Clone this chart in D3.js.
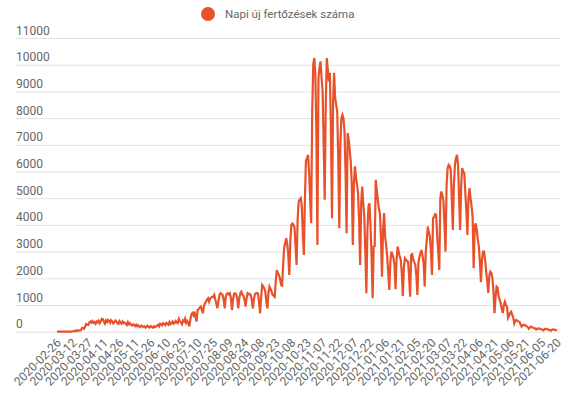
<!DOCTYPE html>
<html><head><meta charset="utf-8">
<script src="https://cdn.jsdelivr.net/npm/d3@7"></script>
<style>body{margin:0;background:#fff} svg{display:block} text{font-family:Roboto,"Noto Sans",sans-serif}</style>
</head><body><svg id="c" width="575" height="401"></svg>
<script>
const seriesName = "Napi új fertőzések száma";
// daily new infections, one array per month (first array starts 2020-02-26)
const feb2020 = [1,0,2,0];
const mar2020 = [0,0,0,0,1,2,2,2,5,5,1,19,17,11,50,30,55,41,49,60,140,145,110,190,290,260,250,350,380,340,400];
const apr2020 = [330,360,300,380,350,410,320,390,480,470,380,300,420,360,440,400,330,430,390,310,360,420,380,320,290,400,350,300,380,330];
const may2020 = [340,300,250,360,280,320,260,230,280,250,210,260,200,240,190,170,230,210,180,200,150,190,220,170,160,210,180,150,200,170,190];
const jun2020 = [230,260,200,300,280,240,320,290,250,330,300,260,360,280,320,380,300,330,400,350,320,480,390,350,280,420,380,490,330,400];
const jul2020 = [320,200,450,650,700,620,750,550,380,810,850,900,940,820,690,950,1060,1125,1200,1250,1125,1250,1280,1310,1300,1375,1200,1050,880,1150,1375];
const aug2020 = [1440,1400,1380,1200,875,1300,1420,1440,1400,1440,1250,810,1200,1420,1440,1400,1250,875,1250,1450,1500,1380,1350,1200,940,1250,1440,1400,1420,1375,1200];
const sep2020 = [875,1200,1400,1440,1450,1420,1100,690,1300,1750,1700,1625,1500,1100,875,1450,1690,1600,1500,1375,1350,1310,1900,2310,2200,2125,2000,1800,1690,2400];
const oct2020 = [3125,3300,3500,3300,2900,2125,3400,4000,4050,4000,3900,3200,2500,4200,4875,4950,5000,4700,3700,2875,5000,6400,6500,6625,6000,5000,4060,8250,10000,10250,9625];
const nov2020 = [7500,3250,9500,9900,10125,9500,9000,7000,4940,8500,10250,9800,9375,9700,7500,4250,8500,9700,8750,8500,8250,6500,3875,7000,8000,8125,8000,7500,6000,3690];
const dec2020 = [7440,7200,6800,6375,5500,3250,5500,6190,5810,5500,5190,4200,2500,4800,5440,4800,4310,3000,1440,3800,4690,4810,3940,2800,1250,3190,3200,5690,5300,4940,4600];
const jan2021 = [4440,3500,2060,3800,4440,3560,3250,2800,2200,1560,2600,3000,2900,2750,2500,1590,2700,3190,3000,2810,2700,2200,1340,2400,2750,2700,2650,2625,2100,1310,2875];
const feb2021 = [2900,2700,2600,2500,2100,1375,2600,2810,2950,3060,2800,2560,1690,3000,3440,3940,3700,3560,3000,2125,4250,4300,4400,4375,3560,3000,2310,5000];
const mar2021 = [5250,5100,4875,4000,3000,5500,6125,6250,6200,6060,5000,3810,5500,6250,6500,6625,6250,5000,3810,5500,6125,6000,5940,5190,4500,3625,5000,5375,5000,4700,4310];
const apr2021 = [2375,3940,4060,3800,3440,3190,2600,1850,2700,3000,3000,2700,2250,1900,1450,2100,2250,2200,2000,1500,690,1300,1690,1650,1310,1200,1060,850,700,1000];
const may2021 = [1125,1000,940,520,600,700,750,640,520,310,420,440,400,380,375,280,190,230,260,250,220,200,170,110,160,190,170,150,140,120,80];
const jun2021 = [110,125,115,100,90,70,50,95,110,100,85,75,60,40,70,90,80,70,60,45];

const monthStarts = ["2020-02-26","2020-03-01","2020-04-01","2020-05-01","2020-06-01","2020-07-01","2020-08-01","2020-09-01","2020-10-01","2020-11-01","2020-12-01","2021-01-01","2021-02-01","2021-03-01","2021-04-01","2021-05-01","2021-06-01"];
const monthValues = [feb2020,mar2020,apr2020,may2020,jun2020,jul2020,aug2020,sep2020,oct2020,nov2020,dec2020,jan2021,feb2021,mar2021,apr2021,may2021,jun2021];

const yTicks = [0,1000,2000,3000,4000,5000,6000,7000,8000,9000,10000,11000];
const xTickLabels = ["2020-02-26","2020-03-12","2020-03-27","2020-04-11","2020-04-26","2020-05-11","2020-05-26","2020-06-10","2020-06-25","2020-07-10","2020-07-25","2020-08-09","2020-08-24","2020-09-08","2020-09-23","2020-10-08","2020-10-23","2020-11-07","2020-11-22","2020-12-07","2020-12-22","2021-01-06","2021-01-21","2021-02-05","2021-02-20","2021-03-07","2021-03-22","2021-04-06","2021-04-21","2021-05-06","2021-05-21","2021-06-05","2021-06-20"];

const utc = s => new Date(s + "T00:00:00Z");
const data = [];
monthStarts.forEach((s, m) => {
  const t0 = utc(s).getTime();
  monthValues[m].forEach((v, i) => data.push({date: new Date(t0 + i * 864e5), value: v}));
});

const color = "#e9512b";
const svg = d3.select("#c");
const x = d3.scaleUtc().domain([utc("2020-02-26"), utc("2021-06-20")]).range([57, 557]);
const y = d3.scaleLinear().domain([0, 11000]).range([331.7, 38]);

// grid lines + y labels
const gy = svg.append("g").attr("transform", "translate(15,0)")
  .call(d3.axisRight(y).tickValues(yTicks).tickSize(545).tickFormat(d3.format("d")));
gy.select(".domain").remove();
gy.selectAll(".tick line").attr("stroke", "#e2e2e2").attr("stroke-width", 1);
gy.selectAll(".tick text").attr("x", 1).attr("dy", -4).attr("text-anchor", "start")
  .attr("fill", "#666").style("font-size", "12px").style("font-family", "Roboto");

// x labels
const gx = svg.append("g").attr("transform", "translate(0,342)")
  .call(d3.axisBottom(x).tickValues(xTickLabels.map(utc)).tickSize(0).tickFormat((d, i) => xTickLabels[i]));
gx.select(".domain").remove();
gx.selectAll(".tick text").attr("x", 2).attr("y", 0).attr("dy", "0.35em")
  .attr("transform", "rotate(-45)").attr("text-anchor", "end")
  .attr("fill", "#666").style("font-size", "12px").style("font-family", "Roboto");

// line
const line = d3.line().x(d => x(d.date)).y(d => y(d.value));
svg.append("path").datum(data).attr("d", line).attr("fill", "none")
  .attr("stroke", color).attr("stroke-width", 2.2);

// legend
svg.append("circle").attr("cx", 208).attr("cy", 14).attr("r", 7).attr("fill", color);
svg.append("text").attr("x", 225).attr("y", 18).text(seriesName)
  .attr("fill", "#666").style("font-size", "11.5px").style("font-family", "Roboto");
</script></body></html>
